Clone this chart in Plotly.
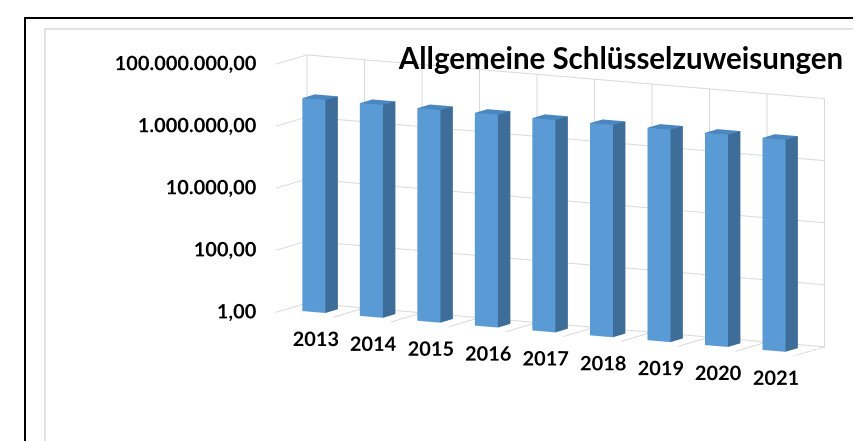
import plotly.graph_objects as go

years = ["2013", "2014", "2015", "2016", "2017", "2018", "2019", "2020", "2021"]
values = [7300000, 7200000, 7100000, 7200000, 7000000, 6900000, 7000000, 6900000, 6800000]
tick_vals = [1, 100, 10000, 1000000, 100000000]
tick_text = ["1,00", "100,00", "10.000,00", "1.000.000,00", "100.000.000,00"]
title_text = "Allgemeine Schlüsselzuweisungen"

FRONT = "#5B9BD5"
SIDE = "#3E6D99"
TOP = "#4A86C0"
GRID = "#D9D9D9"
FONT = "Lato"

n = len(years)
half_w = 0.2
y0, y1 = 0.3, 0.7

xs, ys, zs, ii, jj, kk, fc = [], [], [], [], [], [], []
for idx, v in enumerate(values):
    a, b = idx - half_w, idx + half_w
    base = len(xs)
    corners = [(a, y0, 1), (b, y0, 1), (b, y1, 1), (a, y1, 1),
               (a, y0, v), (b, y0, v), (b, y1, v), (a, y1, v)]
    for (cx_, cy_, cz_) in corners:
        xs.append(cx_); ys.append(cy_); zs.append(cz_)
    faces = [((0, 1, 5), FRONT), ((0, 5, 4), FRONT),
             ((1, 2, 6), SIDE), ((1, 6, 5), SIDE),
             ((4, 5, 6), TOP), ((4, 6, 7), TOP),
             ((0, 3, 7), SIDE), ((0, 7, 4), SIDE),
             ((3, 2, 6), SIDE), ((3, 6, 7), SIDE),
             ((0, 1, 2), SIDE), ((0, 2, 3), SIDE)]
    for (p, q, r), col in faces:
        ii.append(base + p); jj.append(base + q); kk.append(base + r); fc.append(col)

bars = go.Mesh3d(x=xs, y=ys, z=zs, i=ii, j=jj, k=kk, facecolor=fc,
                 flatshading=True,
                 lighting=dict(ambient=1, diffuse=0, specular=0, roughness=1, fresnel=0),
                 hoverinfo="skip", showscale=False)

# category divider gridlines on floor and back wall
gx, gy, gz = [], [], []
zmax = tick_vals[-1]
for k in range(n + 1):
    bnd = k - 0.5
    gx += [bnd, bnd, bnd, None]
    gy += [0, 1, 1, None]
    gz += [1, 1, zmax, None]
dividers = go.Scatter3d(x=gx, y=gy, z=gz, mode="lines", line=dict(color=GRID, width=2),
                        hoverinfo="skip", showlegend=False)

zlabels = go.Scatter3d(x=[-0.5] * len(tick_vals), y=[0] * len(tick_vals), z=tick_vals,
                       mode="text", text=[t + "\u00a0\u00a0" for t in tick_text],
                       textposition="middle left",
                       textfont=dict(family=FONT, size=20, color="black", weight="bold"),
                       hoverinfo="skip", showlegend=False)

xlabels = go.Scatter3d(x=list(range(n)), y=[0.35] * n, z=[1] * n,
                       mode="text", text=["<br>" + y for y in years],
                       textposition="bottom center",
                       textfont=dict(family=FONT, size=20, color="black", weight="bold"),
                       hoverinfo="skip", showlegend=False)

fig = go.Figure([bars, dividers, zlabels, xlabels])

axis_common = dict(showbackground=False, gridcolor=GRID, gridwidth=2,
                   zeroline=False, showspikes=False, title=dict(text=""))
cx, cy, cz = -0.43, -0.27, -0.10
fig.update_layout(
    width=861, height=441,
    margin=dict(l=0, r=0, t=0, b=0),
    paper_bgcolor="white",
    showlegend=False,
    title=dict(text="<b>" + title_text + "</b>", x=0.712, y=0.885, xanchor="center", yanchor="middle",
               xref="paper", yref="paper",
               font=dict(family=FONT, size=29.5, color="black")),
    scene=dict(
        domain=dict(x=[0.0, 1.0], y=[0.0, 1.0]),
        bgcolor="rgba(0,0,0,0)",
        xaxis=dict(axis_common, range=[-0.5, n - 0.5], tickvals=list(range(n)),
                   showgrid=False, showticklabels=False, ticks="", showline=False),
        yaxis=dict(axis_common, range=[0, 1], showgrid=False, showticklabels=False, ticks="", showline=False),
        zaxis=dict(axis_common, type="log", range=[0, 8], tickvals=tick_vals,
                   showticklabels=False, ticks="", showline=False),
        aspectmode="manual",
        aspectratio=dict(x=2.66, y=0.3, z=1.14),
        camera=dict(eye=dict(x=cx + 0.88, y=cy - 1.65, z=cz + 0.30),
                    center=dict(x=cx, y=cy, z=cz),
                    projection=dict(type="orthographic")),
        dragmode=False,
    ),
    shapes=[
        dict(type="rect", xref="paper", yref="paper", x0=37 / 861, x1=1.2, y0=1 - 436 / 441, y1=1 - 21 / 441,
             line=dict(color=GRID, width=1.5), layer="below"),
        dict(type="rect", xref="paper", yref="paper", x0=17 / 861, x1=1.2, y0=-0.2, y1=1 - 10 / 441,
             line=dict(color="black", width=2), layer="below"),
    ],
)

fig.write_html("out.html")
